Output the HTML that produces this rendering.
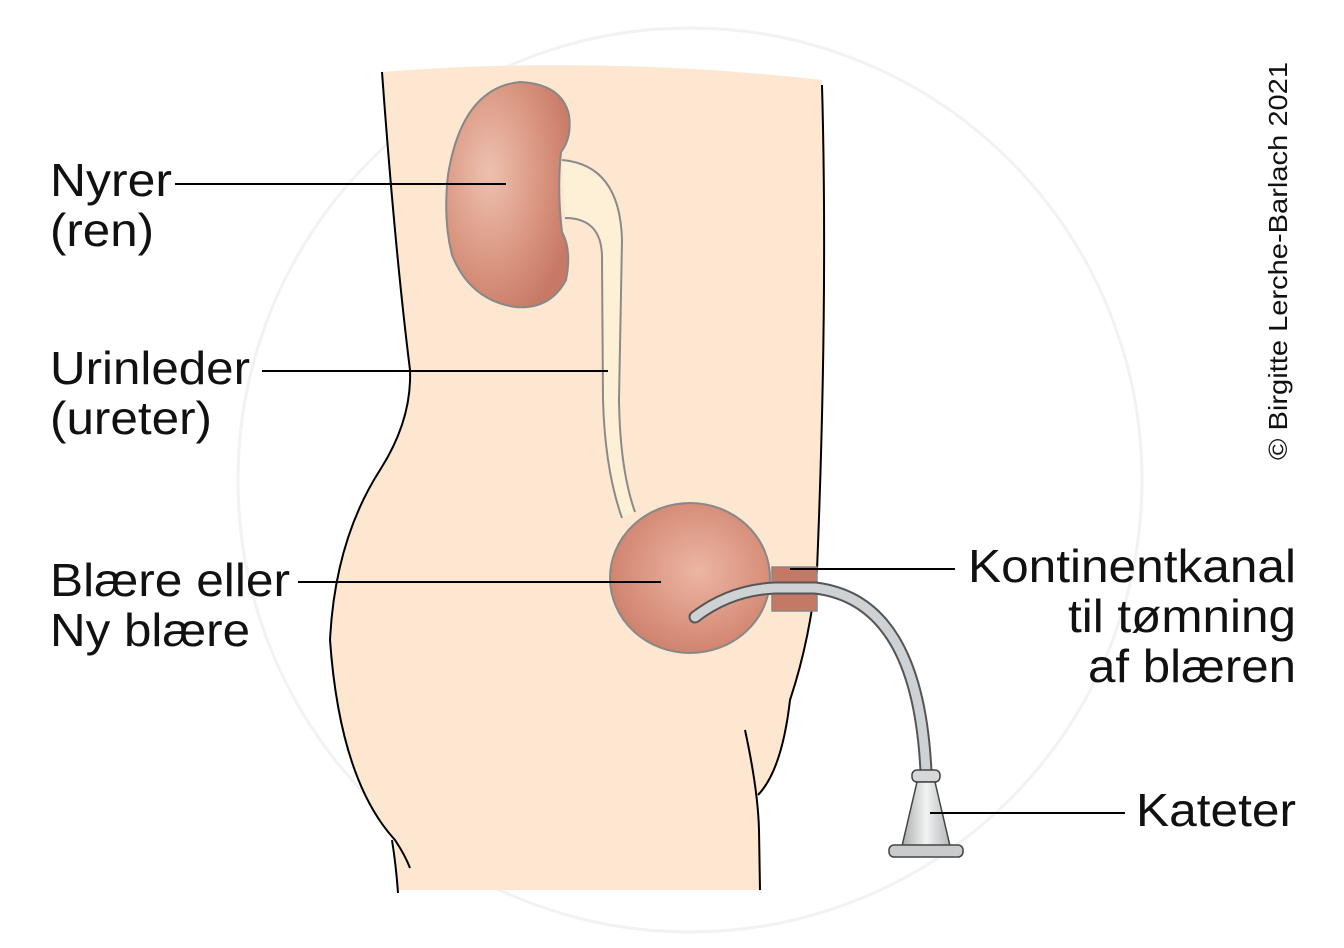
<!DOCTYPE html>
<html><head><meta charset="utf-8"><style>
html,body{margin:0;padding:0;background:#fff}
svg{display:block}
text{font-family:"Liberation Sans",Arial,sans-serif;fill:#111}
</style></head><body>
<svg width="1344" height="948" viewBox="0 0 1344 948" xmlns="http://www.w3.org/2000/svg">
<defs>
<radialGradient id="kg" cx="0.35" cy="0.4" r="0.7">
<stop offset="0" stop-color="#eec1b0"/><stop offset="0.6" stop-color="#d9957f"/><stop offset="1" stop-color="#c77966"/>
</radialGradient>
<radialGradient id="bg" cx="0.55" cy="0.45" r="0.65">
<stop offset="0" stop-color="#ecb6a3"/><stop offset="0.7" stop-color="#d68d78"/><stop offset="1" stop-color="#c97b68"/>
</radialGradient>
<linearGradient id="fg" x1="0" x2="1">
<stop offset="0" stop-color="#a9acae"/><stop offset="0.5" stop-color="#f2f3f3"/><stop offset="1" stop-color="#b5b8ba"/>
</linearGradient>
</defs>
<circle cx="690" cy="480" r="452" fill="none" stroke="#f2f2f2" stroke-width="3"/>
<path d="M382,72 Q600,55 822,80 L822,85 Q828,300 817,570 Q810,640 790,700 Q782,770 758,795 L760,890 L398,890 Q395,860 395,840 Q340,780 330,640 Q335,540 380,470 Q412,420 410,370 Q395,250 382,72 Z" fill="#fde7d0"/>
<path d="M382,72 Q395,250 410,370 Q412,420 380,470 Q335,540 330,640 Q340,780 395,840 Q405,855 410,868" fill="none" stroke="#000" stroke-width="2"/>
<path d="M392,840 Q396,865 398,893" fill="none" stroke="#000" stroke-width="2"/>
<path d="M822,85 Q828,300 817,570 Q810,640 790,700 Q782,770 758,795" fill="none" stroke="#000" stroke-width="2"/>
<path d="M745,730 Q758,790 759,830 L760,890" fill="none" stroke="#000" stroke-width="2"/>
<!-- ureter -->
<path d="M562,160 Q620,165 622,240 L619,400 Q620,470 635,512 L622,518 Q605,470 603,400 L602,260 Q603,218 565,218 Z" fill="#fdf0d6"/>
<path d="M562,160 Q620,165 622,240 L619,400 Q620,470 635,512" fill="none" stroke="#8a8a8a" stroke-width="2"/>
<path d="M565,218 Q603,218 602,260 L603,400 Q605,470 622,518" fill="none" stroke="#8a8a8a" stroke-width="2"/>
<!-- kidney -->
<path d="M520,82 Q562,84 569,115 Q572,138 561,152 Q557,190 562,232 Q572,250 566,280 Q550,310 515,307 Q470,300 452,255 Q443,220 448,175 Q462,88 520,82 Z" fill="url(#kg)" stroke="#888" stroke-width="2"/>
<ellipse cx="690" cy="578" rx="80" ry="75" fill="url(#bg)" stroke="#888" stroke-width="2"/>
<rect x="772" y="567" width="45" height="44" fill="#c47866" stroke="#888" stroke-width="1.5"/>
<path d="M695,617 Q730,590 775,588 L815,588 Q918,600 926,772" fill="none" stroke="#555" stroke-width="13" stroke-linecap="round"/>
<path d="M695,617 Q730,590 775,588 L815,588 Q918,600 926,772" fill="none" stroke="#cfd2d4" stroke-width="9" stroke-linecap="round"/>
<rect x="912" y="770" width="28" height="12" rx="5" fill="#d5d7d8" stroke="#444" stroke-width="1.5"/>
<path d="M917,782 L935,782 L950,846 L902,846 Z" fill="url(#fg)" stroke="#444" stroke-width="1.5"/>
<rect x="889" y="845" width="74" height="12" rx="5" fill="#c9cbcc" stroke="#444" stroke-width="1.5"/>
<g stroke="#000" stroke-width="2">
<line x1="175" y1="184" x2="506" y2="184"/>
<line x1="262" y1="371" x2="608" y2="371"/>
<line x1="298" y1="582" x2="661" y2="582"/>
<line x1="790" y1="569" x2="955" y2="569"/>
<line x1="930" y1="813" x2="1125" y2="813"/>
</g>
<g font-size="46">
<text x="50" y="196" textLength="122" lengthAdjust="spacingAndGlyphs">Nyrer</text>
<text x="50" y="246" textLength="104" lengthAdjust="spacingAndGlyphs">(ren)</text>
<text x="50" y="384" textLength="200" lengthAdjust="spacingAndGlyphs">Urinleder</text>
<text x="50" y="434" textLength="162" lengthAdjust="spacingAndGlyphs">(ureter)</text>
<text x="50" y="596" textLength="240" lengthAdjust="spacingAndGlyphs">Blære eller</text>
<text x="50" y="646" textLength="200" lengthAdjust="spacingAndGlyphs">Ny blære</text>
<text x="968" y="582" textLength="328" lengthAdjust="spacingAndGlyphs">Kontinentkanal</text>
<text x="1068" y="632" textLength="228" lengthAdjust="spacingAndGlyphs">til tømning</text>
<text x="1088" y="682" textLength="208" lengthAdjust="spacingAndGlyphs">af blæren</text>
<text x="1136" y="826" textLength="160" lengthAdjust="spacingAndGlyphs">Kateter</text>
</g>
<text transform="translate(1287,460) rotate(-90)" font-size="26" textLength="398" lengthAdjust="spacingAndGlyphs">© Birgitte Lerche-Barlach 2021</text>
</svg>
</body></html>
